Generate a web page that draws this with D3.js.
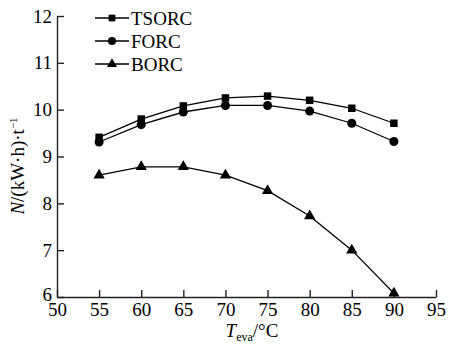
<!DOCTYPE html>
<html>
<head>
<meta charset="utf-8">
<script src="https://cdn.jsdelivr.net/npm/d3@7"></script>
<style>
  body { margin: 0; background: #fff; }
  svg text { font-family: "Liberation Serif", "Times New Roman", serif; }
</style>
</head>
<body>
<div id="container"></div>
<script>
/* CONSTANTS AND GLOBALS */
const width = 452;
const height = 349;
const margin = {top: 16, bottom: 52, left: 57, right: 16};

/* DATA */
const temps = [55, 60, 65, 70, 75, 80, 85, 90];
const tsorc = [9.41, 9.80, 10.08, 10.25, 10.29, 10.20, 10.03, 9.71];
const forc  = [9.31, 9.68, 9.95, 10.09, 10.09, 9.97, 9.71, 9.32];
const borc  = [8.60, 8.78, 8.78, 8.60, 8.27, 7.73, 7.00, 6.08];
const xTicks = [50, 55, 60, 65, 70, 75, 80, 85, 90, 95];
const yTicks = [6, 7, 8, 9, 10, 11, 12];
const seriesNames = ["TSORC", "FORC", "BORC"];
const seriesSymbols = [d3.symbolSquare, d3.symbolCircle, d3.symbolTriangle];
const seriesSizes = [56, 64, 55];

const series = seriesNames.map((name, i) => ({
  name,
  values: [tsorc, forc, borc][i].map((v, j) => ({x: temps[j], y: v})),
  symbol: seriesSymbols[i],
  size: seriesSizes[i]
}));

/* SCALES */
const xScale = d3.scaleLinear()
  .domain([50, 95])
  .range([margin.left, width - margin.right]);

const yScale = d3.scaleLinear()
  .domain([6, 12])
  .range([height - margin.bottom, margin.top]);

/* SVG */
const svg = d3.select("#container")
  .append("svg")
  .attr("width", width)
  .attr("height", height);

// x axis, ticks pointing inward
const xAxis = d3.axisBottom(xScale)
  .tickValues(xTicks)
  .tickFormat(d3.format("d"))
  .tickSizeInner(-7)
  .tickSizeOuter(0)
  .tickPadding(8);
const gx = svg.append("g")
  .attr("transform", `translate(0,${height - margin.bottom})`)
  .call(xAxis);

// y axis
const yAxis = d3.axisLeft(yScale)
  .tickValues(yTicks)
  .tickFormat(d3.format("d"))
  .tickSizeInner(-7)
  .tickSizeOuter(0)
  .tickPadding(5);
const gy = svg.append("g")
  .attr("transform", `translate(${margin.left},0)`)
  .call(yAxis);

[gx, gy].forEach(g => {
  g.attr("font-family", "Liberation Serif").attr("font-size", 19);
  g.selectAll("path, line").attr("stroke", "#222").attr("stroke-width", 1.4);
  g.selectAll("text").attr("fill", "#000");
});
gx.selectAll("text").attr("dy", "0.71em").attr("y", 6);
// lowest y label sits a little above the x axis
gy.selectAll("text").filter(d => d === 6).attr("dy", "0.2em");

// lines
const line = d3.line()
  .x(d => xScale(d.x))
  .y(d => yScale(d.y));

series.forEach(s => {
  svg.append("path")
    .datum(s.values)
    .attr("fill", "none")
    .attr("stroke", "#000")
    .attr("stroke-width", 1.3)
    .attr("d", line);

  svg.selectAll(null)
    .data(s.values)
    .join("path")
    .attr("transform", d => `translate(${xScale(d.x)},${yScale(d.y)})`)
    .attr("d", d3.symbol().type(s.symbol).size(s.size))
    .attr("fill", "#000");
});

// legend
const legendX = 95;
const legendY = [18, 41, 64];
series.forEach((s, i) => {
  const g = svg.append("g").attr("transform", `translate(${legendX},${legendY[i]})`);
  g.append("line")
    .attr("x1", 0).attr("x2", 34)
    .attr("stroke", "#000").attr("stroke-width", 1.3);
  g.append("path")
    .attr("transform", "translate(17,0)")
    .attr("d", d3.symbol().type(s.symbol).size(s.size * 0.8))
    .attr("fill", "#000");
  g.append("text")
    .attr("x", 36)
    .attr("dy", "0.35em")
    .style("font-size", "19px")
    .text(s.name);
});

// x axis label
const xl = svg.append("text")
  .attr("x", 252)
  .attr("y", 337)
  .attr("text-anchor", "middle")
  .style("font-size", "19px");
xl.append("tspan").attr("font-style", "italic").text("T");
xl.append("tspan").attr("dy", 4).style("font-size", "12px").text("eva");
xl.append("tspan").attr("dy", -4).text("/°C");

// y axis label
const yl = svg.append("text")
  .attr("transform", `translate(24,${166}) rotate(-90)`)
  .attr("text-anchor", "middle")
  .style("font-size", "19px");
yl.append("tspan").attr("font-style", "italic").text("N");
yl.append("tspan").text("/(kW·h)·t");
yl.append("tspan").attr("dy", -7).style("font-size", "11px").text("−1");
</script>
</body>
</html>
